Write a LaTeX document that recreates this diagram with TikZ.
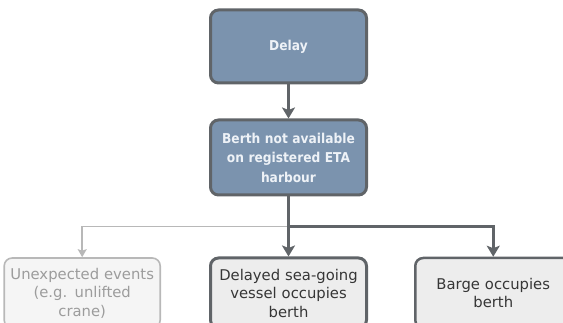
\documentclass[tikz,border=0pt]{standalone}
\usepackage{fontspec}
\setmainfont{DejaVu Sans}
\newfontfamily\heavyfont{DejaVu Sans}[FakeStretch=0.9]
\usetikzlibrary{positioning,arrows.meta}
\definecolor{slate}{HTML}{7B93AE}
\definecolor{edgegrey}{HTML}{606468}
\definecolor{paletext}{HTML}{EEF2F7}
\definecolor{boxgrey}{HTML}{EDEDED}
\definecolor{textgrey}{HTML}{363636}
\definecolor{faint}{HTML}{B8B8B8}
\definecolor{fainttext}{HTML}{9C9C9C}
\definecolor{faintfill}{HTML}{F5F5F5}

\begin{document}
\begin{tikzpicture}[x=1pt,y=1pt,node distance=34pt,
  -{Stealth[length=11pt,width=13pt,inset=2.5pt]},line width=3.5pt,color=edgegrey,
  box/.style={draw=edgegrey,rounded corners=8pt,line width=3pt,inner sep=4pt,
    text width=148pt,minimum height=73pt,align=center},
  cause/.style={box,fill=slate,text=paletext,font=\heavyfont\bfseries\fontsize{13.6}{19.5}\selectfont},
  reason/.style={box,minimum height=70pt,fill=boxgrey,text=textgrey,font=\fontsize{14.8}{18.5}\selectfont},
  faded/.style={draw=faint,fill=faintfill,text=fainttext,line width=1.6pt}]

\useasboundingbox (0,0) rectangle (563,-323);
\clip (0,0) rectangle (563,-323);

\node[cause](delay) at (288.5,-46.5) {Delay};
\node[cause,minimum height=75pt](berth)[below=of delay] {Berth not available\\on registered ETA\\harbour};
\coordinate[below=30pt of berth](split);
\node[reason](vessel)[below=60pt of berth] {Delayed sea-going\\vessel occupies\\berth};
\node[reason,faded](events)[left=48pt of vessel] {Unexpected events\\(e.g. unlifted\\crane)};
\node[reason,line width=2.5pt](barge)[right=46pt of vessel] {Barge occupies\\berth};

% faint branch goes underneath the dark ones
\draw[faint,line width=1.6pt,-{Stealth[length=8pt,width=9pt,inset=1.5pt]}] (split) -| (events);
\draw (split) -| (barge);
\path(delay)edge(berth)
  (berth)edge[-](split)
  (split)edge(vessel);

\end{tikzpicture}
\end{document}
